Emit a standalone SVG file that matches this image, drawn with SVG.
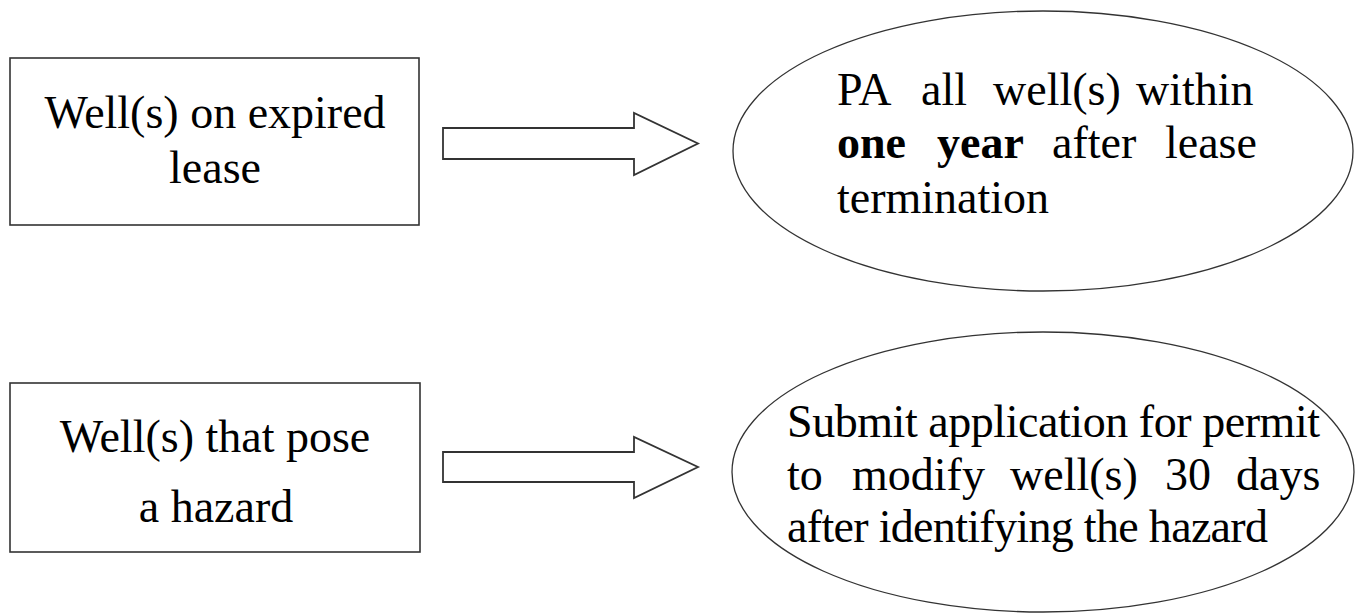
<svg xmlns="http://www.w3.org/2000/svg" width="1355" height="614" viewBox="0 0 1355 614">
  <style>
    .box { fill: #ffffff; stroke: #333333; stroke-width: 1.6; }
    .oval { fill: #ffffff; stroke: #333333; stroke-width: 1.3; }
    .arrow { fill: #ffffff; stroke: #333333; stroke-width: 1.8; stroke-linejoin: miter; }
    .t { font-family: "Liberation Serif", "Times New Roman", serif; font-size: 46px; fill: #000000; }
    .c { text-anchor: middle; }
    .b { font-weight: bold; }
  </style>
  <rect width="1355" height="614" fill="#ffffff"/>

  <!-- block arrows -->
  <g id="connectors">
    <path class="arrow" d="M443,128 H634 V113 L698,143.5 L634,175 V159 H443 Z"/>
    <path class="arrow" d="M443,452 H634 V437 L698,467 L634,498 V482 H443 Z"/>
  </g>

  <!-- condition: expired lease -->
  <g id="expired-lease">
    <rect class="box" x="10" y="58" width="409" height="167"/>
    <text class="t c" x="215" y="128">Well(s) on expired</text>
    <text class="t c" x="215" y="183">lease</text>
  </g>

  <!-- requirement: plug and abandon -->
  <g id="plug-abandon">
    <ellipse class="oval" cx="1043" cy="151" rx="310" ry="140"/>
    <text class="t" y="105"><tspan x="837">PA</tspan><tspan x="921">all</tspan><tspan x="993">well(s)</tspan><tspan x="1136">within</tspan></text>
    <text class="t" y="158"><tspan class="b" x="837">one</tspan><tspan class="b" x="937">year</tspan><tspan x="1052">after</tspan><tspan x="1165">lease</tspan></text>
    <text class="t" x="837" y="213">termination</text>
  </g>

  <!-- condition: hazard -->
  <g id="hazard">
    <rect class="box" x="10" y="383" width="410" height="169"/>
    <text class="t c" x="215" y="452">Well(s) that pose</text>
    <text class="t c" x="216" y="522">a hazard</text>
  </g>

  <!-- requirement: permit to modify -->
  <g id="permit-modify">
    <ellipse class="oval" cx="1043" cy="472" rx="311" ry="140"/>
    <text class="t" x="787" y="437" textLength="533" lengthAdjust="spacing">Submit application for permit</text>
    <text class="t" y="490"><tspan x="787">to</tspan><tspan x="852">modify</tspan><tspan x="1010">well(s)</tspan><tspan x="1165">30</tspan><tspan x="1236">days</tspan></text>
    <text class="t" x="787" y="542" textLength="481" lengthAdjust="spacing">after identifying the hazard</text>
  </g>
</svg>
